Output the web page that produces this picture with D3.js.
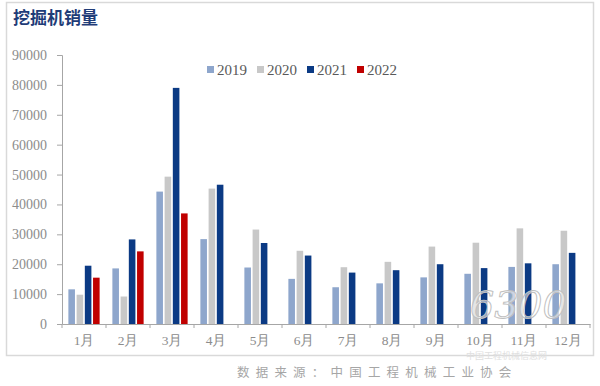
<!DOCTYPE html>
<html>
<head>
<meta charset="utf-8">
<script src="https://cdn.jsdelivr.net/npm/d3@7"></script>
<style>
  body { margin: 0; background: #fff; }
  svg { display: block; }
</style>
</head>
<body>
<svg id="chart" width="600" height="386"></svg>
<script>
// data
const months = ['1月', '2月', '3月', '4月', '5月', '6月', '7月', '8月', '9月', '10月', '11月', '12月']
const years = ['2019', '2020', '2021', '2022']
const sales2019 = [11600, 18600, 44300, 28400, 18900, 15100, 12300, 13600, 15600, 16800, 19100, 20000]
const sales2020 = [9800, 9200, 49300, 45300, 31600, 24500, 19000, 20800, 25900, 27200, 32000, 31200]
const sales2021 = [19500, 28300, 79000, 46600, 27100, 22900, 17200, 18000, 20000, 18700, 20300, 23800]
const sales2022 = [15500, 24300, 37000, null, null, null, null, null, null, null, null, null]
const yTicks = [0, 10000, 20000, 30000, 40000, 50000, 60000, 70000, 80000, 90000]

const series = [sales2019, sales2020, sales2021, sales2022]
const colors = ['#8ea6cc', '#c8c8c8', '#0b3a84', '#c00000']
const serif = '"Liberation Serif", "DejaVu Serif", serif'

const svg = d3.select('#chart')

// outer frame
svg.append('rect')
  .attr('x', 6.5).attr('y', 2.5)
  .attr('width', 587).attr('height', 353)
  .attr('fill', 'none')
  .attr('stroke', '#d9d9d9')
  .attr('stroke-width', 1.5)

svg.append('text')
  .attr('x', 13).attr('y', 24)
  .style('font-family', '"Noto Sans CJK SC", sans-serif')
  .attr('font-weight', 'bold')
  .attr('font-size', 17)
  .attr('fill', '#1f3c78')
  .text('挖掘机销量')

const margin = { left: 62, right: 590, top: 55, bottom: 324 }

const x = d3.scaleBand()
  .domain(months)
  .range([margin.left, margin.right])
  .paddingInner(0.29)
  .paddingOuter(0.145)

const xBar = d3.scaleBand()
  .domain(years)
  .range([0, x.bandwidth()])
  .paddingInner(0.2)

const y = d3.scaleLinear()
  .domain([0, 90000])
  .range([margin.bottom, margin.top])

// y axis
const yAxis = svg.append('g')
  .attr('transform', `translate(${margin.left},0)`)
  .call(d3.axisLeft(y).tickValues(yTicks).tickFormat(d3.format('d')).tickSize(5).tickPadding(10))
yAxis.select('.domain').attr('stroke', '#a6a6a6')
yAxis.selectAll('.tick line').attr('stroke', '#a6a6a6')
yAxis.selectAll('text')
  .style('font-family', serif)
  .style('font-size', '14px')
  .attr('fill', '#8c8c8c')

// x axis, ticks on the month boundaries
const xAxis = svg.append('g')
  .attr('transform', `translate(0,${margin.bottom})`)
  .call(d3.axisBottom(x).tickSize(0).tickPadding(11))
xAxis.select('.domain').attr('stroke', '#a6a6a6')
xAxis.selectAll('text')
  .style('font-family', serif)
  .style('font-size', '13.5px')
  .attr('fill', '#8c8c8c')

const step = x.step()
svg.append('g')
  .selectAll('line')
  .data(d3.range(months.length + 1))
  .enter()
  .append('line')
  .attr('x1', d => margin.left + d * step)
  .attr('x2', d => margin.left + d * step)
  .attr('y1', margin.bottom)
  .attr('y2', margin.bottom + 4)
  .attr('stroke', '#a6a6a6')

// bars
series.forEach((vals, i) => {
  svg.append('g')
    .selectAll('rect')
    .data(vals.map((v, j) => ({ m: months[j], v: v })).filter(d => d.v != null))
    .enter()
    .append('rect')
    .attr('x', d => x(d.m) + xBar(years[i]))
    .attr('y', d => y(d.v))
    .attr('width', xBar.bandwidth())
    .attr('height', d => y(0) - y(d.v))
    .attr('fill', colors[i])
})

// legend
const legend = svg.append('g')
  .selectAll('g')
  .data(years)
  .enter()
  .append('g')
  .attr('transform', (d, i) => `translate(${207 + i * 50},64)`)

legend.append('rect')
  .attr('width', 7)
  .attr('height', 7)
  .attr('y', 2)
  .attr('fill', (d, i) => colors[i])

legend.append('text')
  .attr('x', 10)
  .attr('y', 10.5)
  .style('font-family', serif)
  .style('font-size', '15px')
  .attr('fill', '#595959')
  .text(d => d)

// watermark
svg.append('text')
  .attr('x', 470).attr('y', 318)
  .style('font-family', '"DejaVu Serif", serif')
  .attr('font-style', 'italic')
  .attr('font-size', 38)
  .attr('fill', '#ffffff')
  .attr('fill-opacity', 0.55)
  .attr('stroke', '#bfbfbf')
  .attr('stroke-width', 1)
  .text('6300')

svg.append('text')
  .attr('x', 466).attr('y', 359)
  .style('font-family', '"Noto Sans CJK SC", sans-serif')
  .attr('font-size', 9)
  .attr('fill', '#e0e0e0')
  .text('中国工程机械信息网')

// source note
svg.append('text')
  .attr('x', 237).attr('y', 377)
  .style('font-family', '"Noto Sans CJK SC", sans-serif')
  .attr('font-size', 12.5)
  .attr('letter-spacing', 6.2)
  .attr('fill', '#a6a6a6')
  .text('数据来源：中国工程机械工业协会')
</script>
</body>
</html>
